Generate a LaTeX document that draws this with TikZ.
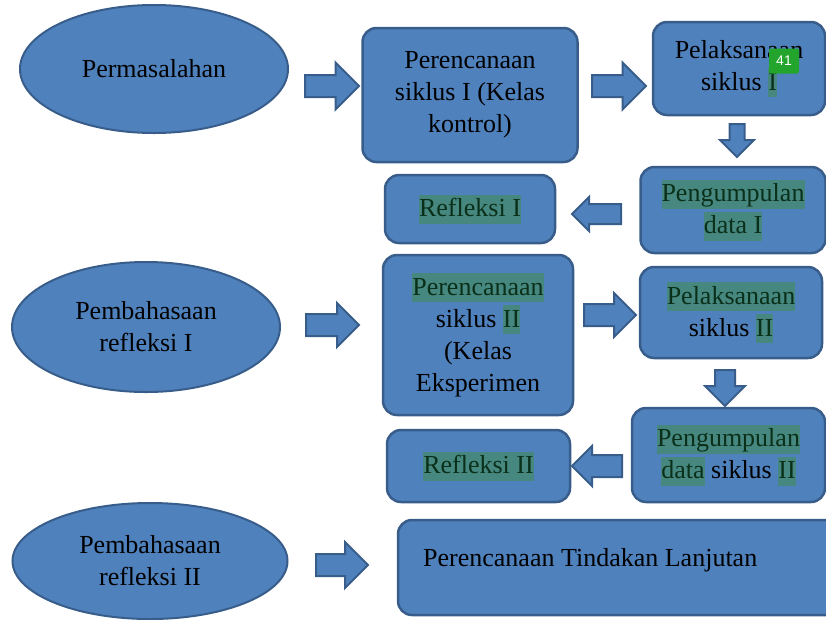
\documentclass[tikz,border=0pt]{standalone}
\usepackage{fontspec}
\setmainfont{Liberation Serif}
\setsansfont{Liberation Sans}
\usetikzlibrary{shapes.geometric, shapes.arrows, positioning}
\definecolor{biru}{RGB}{79,129,189}
\definecolor{birutua}{RGB}{56,93,138}
\definecolor{sorot}{RGB}{70,135,128}
\definecolor{sorotteks}{RGB}{10,48,25}
\definecolor{lencana}{RGB}{35,165,45}
\newcommand{\hlt}[1]{{\setlength{\fboxsep}{0pt}\colorbox{sorot}{\rule[-7pt]{0pt}{29pt}\textcolor{sorotteks}{#1}}}}

\begin{document}
\begin{tikzpicture}[x=1pt, y=-1pt,
    kotak/.style={draw=birutua, fill=biru, line width=2.5pt, rounded corners=14pt, align=center, inner sep=0pt, font=\fontsize{26}{32}\selectfont},
    elips/.style={ellipse, draw=birutua, fill=biru, line width=2pt, align=center, inner sep=0pt, font=\fontsize{26}{32}\selectfont},
    panah/.style 2 args={single arrow, draw=birutua, fill=biru, line width=2pt, inner xsep=0pt, inner ysep=#1, single arrow head extend=#2, anchor=tail}]

    \useasboundingbox (0,0) rectangle (826,619);
    \clip (0,0) rectangle (826,619);

    % baris pertama
    \node[elips, minimum width=268pt, minimum height=128pt] (masalah) at (154,69) {Permasalahan};
    \node[kotak, minimum width=215pt, minimum height=134pt] (rencana1) at (470,95) {Perencanaan\\siklus I (Kelas\\kontrol)};
    \node[kotak, minimum width=172pt, minimum height=93pt] (laksana1) at (739,68.5) {Pelaksanaan\\siklus \hlt{I}};
    \node[kotak, minimum width=185pt, minimum height=86pt] (kumpul1) at (733,210) {\hlt{Pengumpulan}\\\hlt{data I}};
    \node[kotak, minimum width=170pt, minimum height=68pt] (refleksi1) at (470,209) {\hlt{Refleksi I}};

    \node[panah={10pt}{12.5pt}, minimum height=54pt] (p1) at (304,86) {};
    \node[panah={10pt}{12.5pt}, minimum height=54pt] (p2) at (591,86) {};
    \node[panah={6.5pt}{9.5pt}, minimum height=33pt, rotate=-90] (p3) at (737,123) {};
    \node[panah={9pt}{7pt}, minimum height=49pt, rotate=180] (p4) at (622,214) {};

    % baris kedua
    \node[elips, minimum width=268pt, minimum height=130pt] (bahas1) at (146,327) {Pembahasaan\\refleksi I};
    \node[kotak, minimum width=190pt, minimum height=160pt] (rencana2) at (478,335) {\hlt{Perencanaan}\\siklus \hlt{II}\\(Kelas\\Eksperimen};
    \node[kotak, minimum width=182pt, minimum height=91pt] (laksana2) at (731,312.5) {\hlt{Pelaksanaan}\\siklus \hlt{II}};
    \node[kotak, minimum width=193pt, minimum height=94pt] (kumpul2) at (728.5,455) {\hlt{Pengumpulan}\\\hlt{data} siklus \hlt{II}};
    \node[kotak, minimum width=183pt, minimum height=72pt] (refleksi2) at (478.5,466) {\hlt{Refleksi II}};

    \node[panah={10pt}{11pt}, minimum height=53pt] (p5) at (305,325) {};
    \node[panah={10pt}{11pt}, minimum height=52pt] (p6) at (583,315) {};
    \node[panah={9pt}{10pt}, minimum height=36pt, rotate=-90] (p7) at (725,369) {};
    \node[panah={10pt}{9pt}, minimum height=50pt, rotate=180] (p8) at (623,466) {};

    % baris ketiga
    \node[elips, minimum width=275pt, minimum height=116pt] (bahas2) at (150,561) {Pembahasaan\\refleksi II};
    \node[panah={10pt}{12pt}, minimum height=52pt] (p9) at (315,565) {};
    \node[kotak, minimum width=442pt, minimum height=95pt] (lanjut) at (619,567.5) {};
    \node[font=\fontsize{26}{32}\selectfont, anchor=west, inner sep=0pt] (teks) at (423,560) {Perencanaan Tindakan Lanjutan};

    \node[fill=lencana, rounded corners=2pt, text=white, font=\sffamily\fontsize{14}{14}\selectfont, minimum width=30pt, minimum height=25pt, inner sep=0pt] (nomor) at (784,61) {41};

\end{tikzpicture}
\end{document}
